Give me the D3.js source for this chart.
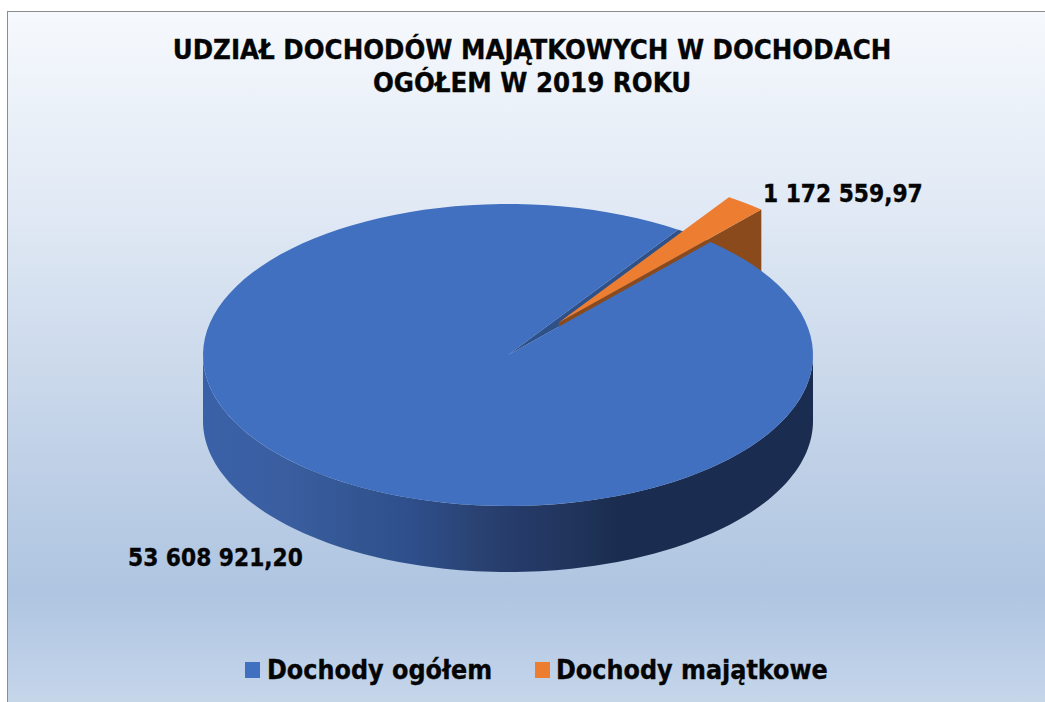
<!DOCTYPE html>
<html><head><meta charset="utf-8">
<script src="https://cdn.jsdelivr.net/npm/d3@7"></script>
<style>html,body{margin:0;padding:0;background:#fff;overflow:hidden}svg{display:block}
text{font-family:"DejaVu Sans",sans-serif;font-weight:700;font-stretch:condensed;fill:#050505;stroke:#050505;stroke-width:.35px}</style>
</head><body><svg id="c" width="1045" height="702"></svg>
<script>
const categories = ["Dochody ogółem", "Dochody majątkowe"];
const values = [53608921.20, 1172559.97];
const valueLabels = ["53 608 921,20", "1 172 559,97"];
const titleLines = ["UDZIAŁ DOCHODÓW MAJĄTKOWYCH W DOCHODACH", "OGÓŁEM W 2019 ROKU"];
const topColors = ["#4170c0", "#ed7d31"];
const firstSliceDeg = 41.6, explosion = 0.272;

const svg = d3.select("#c"), defs = svg.append("defs");
const cx = 508, cy = 355, rx = 305, ry = 151, depth = 66;
const px = d3.scaleLinear().domain([-1, 1]).range([cx - rx, cx + rx]);
const py = d3.scaleLinear().domain([-1, 1]).range([cy + ry, cy - ry]);

const bg = defs.append("linearGradient").attr("id", "bg").attr("x1", 0).attr("x2", 0).attr("y1", 0).attr("y2", 1);
[[0, "#f6f9fd"], [.3, "#dfe8f4"], [.6, "#c3d3e8"], [.83, "#afc5e1"], [.95, "#c0d2e9"], [1, "#c8d8e9"]]
  .forEach(s => bg.append("stop").attr("offset", s[0]).attr("stop-color", s[1]));
const wall = defs.append("linearGradient").attr("id", "wall").attr("gradientUnits", "userSpaceOnUse")
  .attr("x1", cx - rx).attr("x2", cx + rx).attr("y1", 0).attr("y2", 0);
[[0, "#3a61a8"], [.13, "#3a5ea0"], [.25, "#335693"], [.34, "#2e4f8c"], [.45, "#2a4272"], [.52, "#253a68"], [.63, "#1f3358"], [.68, "#1a2c4f"], [1, "#1a2c4f"]]
  .forEach(s => wall.append("stop").attr("offset", s[0]).attr("stop-color", s[1]));

svg.append("rect").attr("x", 7.5).attr("y", 11.5).attr("width", 1045).attr("height", 700)
  .attr("fill", "url(#bg)").attr("stroke", "#8c8c8c");

const pie = d3.pie().sort(null).startAngle(firstSliceDeg * Math.PI / 180)
  .endAngle((firstSliceDeg + 360) * Math.PI / 180);
const arcs = pie(values);
const line = d3.line().x(d => d[0]).y(d => d[1]);
const at = (a, ox = 0, oy = 0, r = 1) => [px(ox + r * Math.sin(a)), py(oy + r * Math.cos(a))];
const sweep = (a0, a1, ox, oy) => d3.range(0, 121).map(i => at(a0 + (a1 - a0) * i / 120, ox, oy));
const down = p => [p[0], p[1] + depth];

const blue = arcs[0], orange = arcs[1];
const mid = (orange.startAngle + orange.endAngle) / 2;
const ox = explosion * Math.sin(mid), oy = explosion * Math.cos(mid);
const center = at(0, 0, 0, 0), apex = at(0, ox, oy, 0);

// blue outer wall (front half of the rim)
const front = sweep(Math.PI / 2, Math.PI * 1.5, 0, 0);
svg.append("path").attr("d", line(front.concat(front.map(down).reverse())) + "Z").attr("fill", "url(#wall)");

// inner wall seen through the notch
svg.append("path").attr("d", line([center].concat(sweep(orange.startAngle, orange.endAngle, 0, 0))) + "Z").attr("fill", "#2f5189");

// exploded slice: cut face, then top
const edge = at(orange.endAngle, ox, oy);
svg.append("path").attr("d", line([apex, edge, down(edge), down(apex)]) + "Z").attr("fill", "#8a4a1c");
svg.append("path").attr("d", line([apex].concat(sweep(orange.startAngle, orange.endAngle, ox, oy))) + "Z").attr("fill", topColors[1]);

// blue top
svg.append("path").attr("d", line([center].concat(sweep(blue.startAngle, blue.endAngle, 0, 0))) + "Z").attr("fill", topColors[0]);

// title
svg.selectAll(".t").data(titleLines).join("text").attr("class", "t")
  .attr("x", 532).attr("y", (d, i) => 59 + i * 33).attr("text-anchor", "middle")
  .style("font-size", "27.3px").text(d => d);

// labels
svg.append("text").attr("x", 128).attr("y", 566).style("font-size", "24.2px").text(valueLabels[0]);
svg.append("text").attr("x", 763).attr("y", 202).style("font-size", "24.2px").text(valueLabels[1]);

// legend
const legendX = [245, 535], legendTextX = [267, 556];
categories.forEach((c, i) => {
  svg.append("rect").attr("x", legendX[i]).attr("y", 662).attr("width", 15).attr("height", 16).attr("fill", topColors[i]);
  svg.append("text").attr("x", legendTextX[i]).attr("y", 679).style("font-size", "26.6px").text(c);
});
</script></body></html>
